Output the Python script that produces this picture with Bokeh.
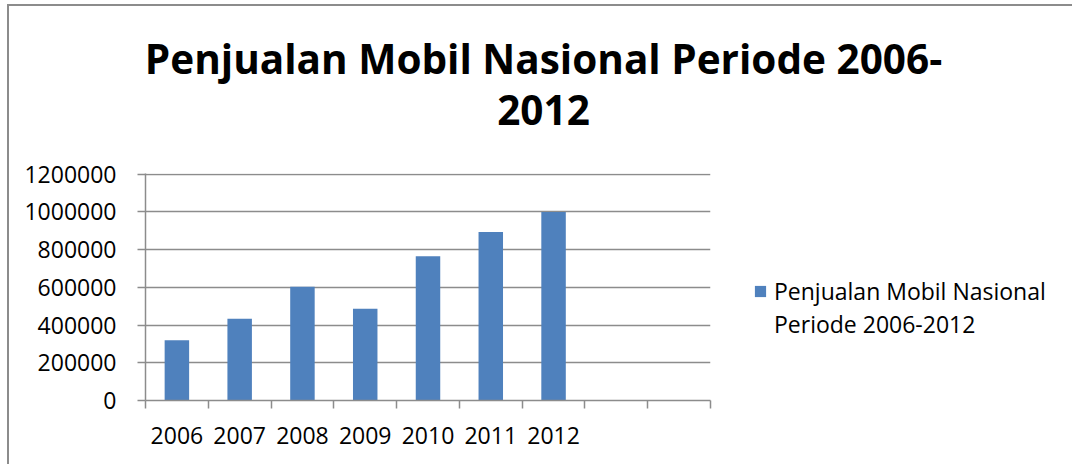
from bokeh.plotting import figure
from bokeh.layouts import column, row
from bokeh.models import (Range1d, FixedTicker, NumeralTickFormatter, Label,
                          Legend, LegendItem, ColumnDataSource)
from bokeh.embed import file_html
from bokeh.resources import INLINE

# ---- data ----
years = ["2006", "2007", "2008", "2009", "2010", "2011", "2012"]
sales = [318904, 433341, 603774, 486061, 764710, 894164, 1000000]
n_slots = 9
y_ticks = [0, 200000, 400000, 600000, 800000, 1000000, 1200000]
title_lines = ["Penjualan Mobil Nasional Periode 2006-", "2012"]
series_name = ["Penjualan Mobil Nasional", "Periode 2006-2012"]

BLUE = "#4F81BD"
GRAY = "#8c8c8c"
FONT = "Open Sans"
BORDER = "2px solid #8c8c8c"


def blank_figure(w, h, xr=(0, 1)):
    f = figure(width=w, height=h, output_backend="svg", toolbar_location=None,
               x_axis_type=None, y_axis_type=None,
               x_range=Range1d(*xr), y_range=Range1d(0, 1),
               min_border=0, min_border_left=0, min_border_right=0,
               min_border_top=0, min_border_bottom=0)
    f.title = None
    f.outline_line_color = None
    f.xgrid.grid_line_color = None
    f.ygrid.grid_line_color = None
    return f


# ---------------- title panel ----------------
tf = blank_figure(1065, 150)
tf.styles = {"border-left": BORDER, "border-top": BORDER,
             "margin-left": "7px", "margin-top": "4px"}
for txt, yy in ((title_lines[0], 98), (title_lines[1], 47)):
    tf.add_layout(Label(x=534, y=yy, x_units="screen", y_units="screen",
                        text=txt, text_align="center",
                        text_baseline="alphabetic", text_font=FONT,
                        text_font_size="40.5px", text_font_style="bold",
                        text_color="black"))

# ---------------- main chart ----------------
xpos = [i + 0.5 for i in range(len(years))]
src = ColumnDataSource(dict(x=xpos, top=sales, year=years))

p = figure(width=731, height=310, output_backend="svg", toolbar_location=None,
           x_range=Range1d(0, n_slots), y_range=Range1d(0, 1204000),
           min_border_left=136, min_border_right=30,
           min_border_top=19, min_border_bottom=64)
p.title = None
p.styles = {"border-left": BORDER, "margin-left": "7px"}
p.outline_line_color = None

p.vbar(x="x", top="top", width=0.39, source=src, fill_color=BLUE, line_color=None)

# x axis: labels at slot centres, ticks at slot boundaries
p.xaxis.ticker = FixedTicker(ticks=[i + 0.5 for i in range(n_slots)],
                             minor_ticks=list(range(n_slots + 1)))
p.xaxis.major_label_overrides = {i + 0.5: (years[i] if i < len(years) else "")
                                 for i in range(n_slots)}
p.xaxis.major_tick_out = 0
p.xaxis.major_tick_in = 0
p.xaxis.minor_tick_out = 8
p.xaxis.minor_tick_in = 0
p.xaxis.minor_tick_line_color = GRAY
p.xaxis.minor_tick_line_width = 1.5
p.xaxis.major_label_standoff = 18

# y axis
p.yaxis.ticker = FixedTicker(ticks=y_ticks)
p.yaxis.formatter = NumeralTickFormatter(format="0")
p.yaxis.major_tick_out = 8
p.yaxis.major_tick_in = 0
p.yaxis.minor_tick_line_color = None
p.yaxis.major_label_standoff = 21

for ax in (p.xaxis, p.yaxis):
    ax.axis_line_color = GRAY
    ax.axis_line_width = 1.5
    ax.major_tick_line_color = GRAY
    ax.major_tick_line_width = 1.5
    ax.major_label_text_font = FONT
    ax.major_label_text_font_size = "23px"
    ax.major_label_text_color = "black"

p.xgrid.grid_line_color = None
p.ygrid.ticker = FixedTicker(ticks=y_ticks)
p.ygrid.grid_line_color = GRAY
p.ygrid.grid_line_width = 1.5

# ---------------- legend panel ----------------
# x range placed away from the data so the proxy bars stay out of view;
# they only supply the legend swatch
lf = blank_figure(334, 310, xr=(-3, -2))
swatch = lf.vbar(x="x", top="top", width=0.39, source=src,
                 fill_color=BLUE, line_color=None)
blank = lf.vbar(x="x", top="top", width=0.39, source=src,
                fill_alpha=0, line_alpha=0)
lf.add_layout(Legend(items=[LegendItem(label=series_name[0], renderers=[swatch]),
                            LegendItem(label=series_name[1], renderers=[blank])],
                     location=(15, 60), orientation="vertical",
                     glyph_width=14, glyph_height=14, label_standoff=7,
                     spacing=1, label_height=0,
                     label_text_font=FONT, label_text_font_size="23px",
                     label_text_color="black", padding=0, margin=0,
                     border_line_color=None, background_fill_alpha=0))

layout = column(tf, row(p, lf))
open("out.html", "w").write(file_html(layout, INLINE))
